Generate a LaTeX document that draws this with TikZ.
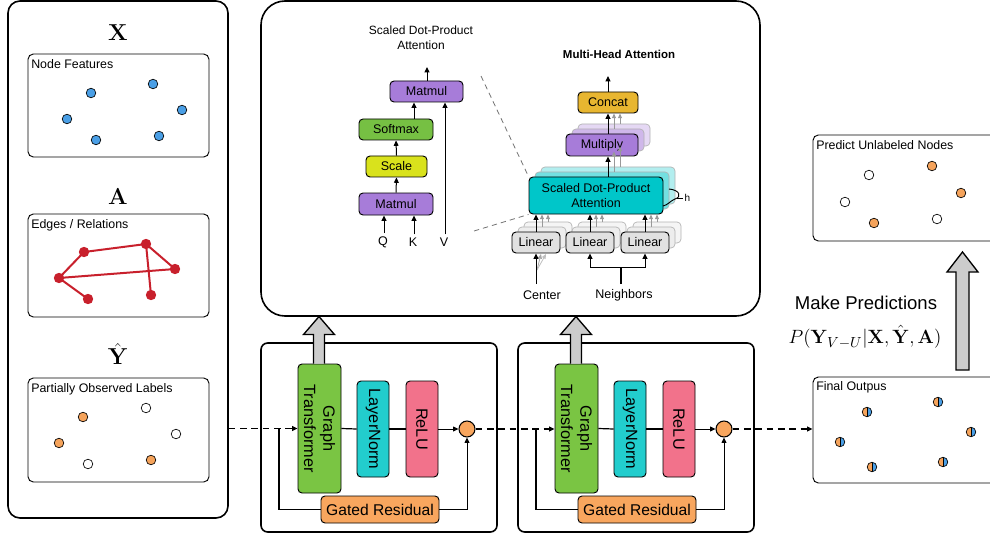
\documentclass[tikz,border=0pt]{standalone}
\usepackage[no-math]{fontspec}
\setmainfont{Liberation Sans}
\usetikzlibrary{arrows.meta,fit,calc}
\definecolor{cblue}{HTML}{4A9FE6}
\definecolor{cred}{HTML}{C8202C}
\definecolor{corange}{HTML}{F5A35B}
\definecolor{cpurple}{HTML}{A77CD9}
\definecolor{cgreen}{HTML}{76C043}
\definecolor{cyellow}{HTML}{D9E21C}
\definecolor{cgold}{HTML}{E8B630}
\definecolor{ccyan}{HTML}{00C6C9}
\definecolor{cgray}{HTML}{E1E1E1}
\definecolor{cgt}{HTML}{7AC543}
\definecolor{cln}{HTML}{22CDCD}
\definecolor{crelu}{HTML}{F2728B}
\definecolor{cgr}{HTML}{F8A65E}
\definecolor{carrow}{HTML}{CCCCCC}
\tikzset{
  panel/.style={draw, line width=1.2pt, inner sep=0pt},
  sub/.style={draw, line width=0.7pt, rounded corners=4pt, inner sep=0pt},
  box/.style={draw, line width=0.7pt, rounded corners=3pt, inner sep=0pt},
  ghost/.style={draw=black!30, line width=0.5pt, rounded corners=3pt, inner sep=0pt},
  dot/.style={circle, draw, line width=0.5pt, minimum size=7.2pt, inner sep=0pt},
  rdot/.style={circle, fill=cred, minimum size=7.8pt, inner sep=0pt},
  redge/.style={cred, line width=1.5pt},
  sdot/.style={dot, path picture={
      \fill[corange] (path picture bounding box.south west) rectangle (path picture bounding box.north);
      \fill[cblue] (path picture bounding box.south) rectangle (path picture bounding box.north east);
      \draw[line width=0.4pt] (path picture bounding box.south) -- (path picture bounding box.north);}},
  arr/.style={-{Triangle[length=4pt,width=3.6pt]}, line width=0.75pt},
  garr/.style={-{Triangle[length=3.5pt,width=3pt]}, line width=0.6pt, black!40},
  dsh/.style={dash pattern=on 5pt off 3.5pt, line width=1pt},
  ln/.style={line width=0.9pt},
  bigarrow/.style={draw, fill=carrow, line width=1pt, line join=miter},
  mathlbl/.style={font=\fontsize{18}{21}\selectfont},
  ttl/.style={font=\fontsize{9.3}{11}\selectfont, inner sep=0pt, anchor=north west},
  lbl/.style={font=\fontsize{9.4}{11}\selectfont},
  blk/.style={font=\fontsize{12.2}{14.5}\selectfont, rotate=-90, align=center},
  grt/.style={font=\fontsize{11.7}{14}\selectfont},
}
\begin{document}
\begin{tikzpicture}[x=0.75pt,y=-0.75pt]
\useasboundingbox (0,0) rectangle (990,535);
\clip (0,0) rectangle (990,535);

% ---------------- left input panel ----------------
\node[panel, rounded corners=9pt, fit={(8,1)(228,518)}] (inpanel) {};
\node[mathlbl] (lx) at (118,33) {$\mathbf{X}$};
\node[mathlbl] (la) at (118,197) {$\mathbf{A}$};
\node[mathlbl] (ly) at (118,354) {$\hat{\mathbf{Y}}$};

\node[sub, fit={(28,54)(209,157)}] (nf) {};
\node[ttl] (nft) at (31,59) {Node Features};
\foreach \i/\x/\y in {1/91/93, 2/153/84, 3/182/110, 4/67/119, 5/96/140, 6/159/136}
  \node[dot, fill=cblue] (b\i) at (\x,\y) {};

\node[sub, fit={(28,214)(209,317)}] (er) {};
\node[ttl] (ert) at (31,219) {Edges / Relations};
\foreach \i/\x/\y in {1/84/252, 2/146/244, 3/175/269, 4/59/278, 5/88/299, 6/151/295}
  \node[rdot] (r\i) at (\x,\y) {};
\draw[redge] (r4.center) -- (r1.center) -- (r2.center) -- (r3.center) -- (r4.center) -- (r5.center);
\draw[redge] (r2.center) -- (r6.center);

\node[sub, fit={(28,378)(209,482)}] (pl) {};
\node[ttl] (plt) at (31,383) {Partially Observed Labels};
\foreach \i/\x/\y/\c in {1/83/417/corange, 2/146/408/white, 3/176/434/white, 4/59/443/corange, 5/88/464/white, 6/151/460/corange}
  \node[dot, fill=\c] (p\i) at (\x,\y) {};

% ---------------- top attention panel ----------------
\node[panel, rounded corners=18pt, fit={(261,1)(760,316)}] (attpanel) {};

% x positions used by vertical connectors
\coordinate (xq) at (384,0);
\coordinate (xk) at (414,0);
\coordinate (xv) at (445,0);
\coordinate (xo) at (427,0);
\coordinate (xa) at (536,0);
\coordinate (xb) at (590,0);
\coordinate (xc) at (645,0);
\coordinate (xm) at (608,0);

% scaled dot-product attention (single)
\node[font=\fontsize{9}{11}\selectfont, align=center] (sdtitle) at (421,38) {Scaled Dot-Product\\Attention};
\node[box, fill=cpurple, fit={(390,81)(463,102)}, label={[lbl]center:Matmul}] (mm2) {};
\node[box, fill=cgreen, fit={(359,119)(433,140)}, label={[lbl]center:Softmax}] (smx) {};
\node[box, fill=cyellow, fit={(366,156)(427,177)}, label={[lbl]center:Scale}] (scl) {};
\node[box, fill=cpurple, fit={(359,193)(433,215)}, label={[lbl]center:Matmul}] (mm1) {};
\node[lbl] (q) at (383,242) {Q};
\node[lbl] (k) at (413,242) {K};
\node[lbl] (v) at (444,242) {V};
\draw[arr] ([yshift=-1pt]q.north -| xq) -- (mm1.south -| xq);
\draw[arr] ([yshift=-1pt]k.north -| xk) -- (mm1.south -| xk);
\draw[arr] ([yshift=-1pt]v.north -| xv) -- (mm2.south -| xv);
\draw[arr] (mm1.north) -- (scl.south);
\draw[arr] (scl.north) -- (smx.south);
\draw[arr] (smx.north -| xk) -- (mm2.south -| xk);
\coordinate (sdout) at (427,67);
\draw[arr] (mm2.north -| xo) -- (sdout);

% multi-head attention
\node[font=\bfseries\fontsize{8.6}{10}\selectfont] (mhtitle) at (619,54) {Multi-Head Attention};
% ghosts
\node[ghost, fill=ccyan!30, fit={(541,167)(675,204)}] (sdg2) {};
\node[ghost, fill=ccyan!55, fit={(535,172)(669,209)}] (sdg1) {};
\node[ghost, fill=cpurple!30, fit={(578,124)(650,146)}] (mpg2) {};
\node[ghost, fill=cpurple!55, fit={(572,129)(644,151)}] (mpg1) {};
\foreach \n/\x in {1/512, 2/566, 3/621}{
  \node[ghost, fill=black!4, fit={(\x+12,222)(\x+60,243)}] (lg2\n) {};
  \node[ghost, fill=black!7, fit={(\x+6,227)(\x+54,248)}] (lg1\n) {};
}
\node[box, fill=ccyan, fit={(529,177)(663,214)}, label={[lbl, align=center]center:Scaled Dot-Product\\Attention}] (sdpa) {};
\node[box, fill=cpurple, fit={(566,134)(638,156)}, label={[lbl]center:Multiply}] (mul) {};
\node[box, fill=cgold, fit={(578,92)(638,113)}, label={[lbl]center:Concat}] (cat) {};
\node[box, fill=cgray, fit={(512,232)(560,253)}, label={[lbl]center:Linear}] (lin1) {};
\node[box, fill=cgray, fit={(566,232)(614,253)}, label={[lbl]center:Linear}] (lin2) {};
\node[box, fill=cgray, fit={(621,232)(669,253)}, label={[lbl]center:Linear}] (lin3) {};

% arrows in multi-head
\foreach \x in {542,596,651}{\draw[garr] (\x,227) -- (\x,214.5);}
\foreach \x in {548,602,657}{\draw[garr] (\x,222) -- (\x,214.5);}
\draw[arr] (lin1.north -| xa) -- (sdpa.south -| xa);
\draw[arr] (lin2.north -| xb) -- (sdpa.south -| xb);
\draw[arr] (lin3.north -| xc) -- (sdpa.south -| xc);
\draw[garr] (620,167) -- (620,146.5);
\draw[garr] (614,172) -- (614,151.5);
\draw[arr] (sdpa.north -| xm) -- (mul.south -| xm);
\draw[garr] (620,124) -- (620,113.5);
\draw[garr] (614,129) -- (614,113.5);
\draw[arr] (mul.north -| xm) -- (cat.south -| xm);
\coordinate (mhout) at (608,76);
\draw[arr] (cat.north -| xm) -- (mhout);

% h brace
\draw[line width=0.7pt] (669,189) .. controls (680,190) and (682,197) .. (675,199) .. controls (670,201) and (668,205) .. (663,206);
\draw[line width=0.6pt] (677,198) -- (683,198);
\node[font=\fontsize{7.5}{9}\selectfont, anchor=west, inner sep=1pt] (hl) at (683,198) {h};

% inputs
\node[lbl] (ctr) at (542,295) {Center};
\node[lbl] (nbr) at (624,295) {Neighbors};
\draw[garr, black!35] (537,270) -- (541,254);
\draw[garr, black!25] (537,270) -- (546,254);
\coordinate (cin) at (536,284);
\draw[arr] (cin) -- (lin1.south -| xa);
\coordinate (nin) at (621,284);
\coordinate (nsplit) at (621,267);
\draw[ln] (nin) -- (nsplit);
\draw[arr] (nsplit) -| (lin2.south -| xb);
\draw[arr] (nsplit) -| (lin3.south -| xc);

% dashed zoom lines
\coordinate (zA) at (481,76);
\coordinate (zB) at (474,231);
\draw[black!55, line width=0.6pt, dash pattern=on 4pt off 3pt] (zA) -- (sdpa.north west);
\draw[black!55, line width=0.6pt, dash pattern=on 4pt off 3pt] (zB) -- (sdpa.south west);

% ---------------- blocks ----------------
\foreach \b/\ox in {1/0, 2/257}{
  \node[panel, rounded corners=5pt, fit={(261+\ox,343)(497+\ox,532)}] (blk\b) {};
  \node[box, fill=cgt, fit={(298+\ox,364)(341+\ox,493)}] (gt\b) {};
  \node[blk] (gtt\b) at (gt\b.center) {Graph\\Transformer};
  \node[box, fill=cln, fit={(357+\ox,381)(389+\ox,477)}] (ln\b) {};
  \node[blk] (lnt\b) at (ln\b.center) {LayerNorm};
  \node[box, fill=crelu, fit={(406+\ox,381)(438+\ox,477)}] (relu\b) {};
  \node[blk] (relut\b) at (relu\b.center) {ReLU};
  \node[circle, draw, line width=0.8pt, fill=cgr, minimum size=12pt, inner sep=0pt] (add\b) at (467+\ox,429) {};
  \node[box, fill=cgr, fit={(321+\ox,496)(439+\ox,523)}, label={[grt]center:Gated Residual}] (gr\b) {};
  \coordinate (rs\b) at (279+\ox,429);
  \draw[ln] (gt\b.east) -- (ln\b.west);
  \draw[ln] (ln\b.east) -- (relu\b.west);
  \draw[arr] (relu\b.east) -- (add\b.west);
  \draw[ln] (rs\b) |- (gr\b.west);
  \draw[arr] (gr\b.east) -| (add\b.south);
  \draw[bigarrow] ($(gt\b.north)+(-6,0)$) -- ++(0,-29) -- ++(-10,0) -- ($(gt\b.north)+(-0.5,-47)$) -- ($(gt\b.north)+(15,-29)$) -- ++(-10,0) -- ($(gt\b.north)+(5,0)$);
}
\draw[dsh, -{Triangle[length=4pt,width=3.6pt]}] (inpanel.east |- gt1.west) -- (gt1.west);
\draw[dsh, -{Triangle[length=4pt,width=3.6pt]}] (add1.east) -- (add1.east -| gt2.west);

% ---------------- right side ----------------
\node[sub, fit={(813,377)(1000,483)}] (fo) {};
\node[ttl] (fot) at (816,381) {Final Outpus};
\foreach \i/\x/\y in {1/867/412, 2/938/402, 3/971/432, 4/840/442, 5/872/467, 6/943/462}
  \node[sdot] (f\i) at (\x,\y) {};
\draw[dsh, -{Triangle[length=4pt,width=3.6pt]}] (add2.east) -- (add2.east -| fo.west);

\node[sub, fit={(813,135)(1000,241)}] (pu) {};
\node[ttl] (put) at (816,140) {Predict Unlabeled Nodes};
\foreach \i/\x/\y/\c in {1/869/175/white, 2/932/166/corange, 3/961/193/corange, 4/845/202/white, 5/874/223/corange, 6/937/219/white}
  \node[dot, fill=\c] (u\i) at (\x,\y) {};

\draw[bigarrow] (956,370) -- (956,272) -- (947,272) -- (962.5,252) -- (978,272) -- (969,272) -- (969,370) -- cycle;
\node[font=\fontsize{13.9}{16}\selectfont] (mp) at (866,303) {Make Predictions};
\node[font=\fontsize{15.5}{18}\selectfont] (form) at (865,337) {$P(\mathbf{Y}_{V-U}|\mathbf{X},\hat{\mathbf{Y}},\mathbf{A})$};
\end{tikzpicture}
\end{document}
